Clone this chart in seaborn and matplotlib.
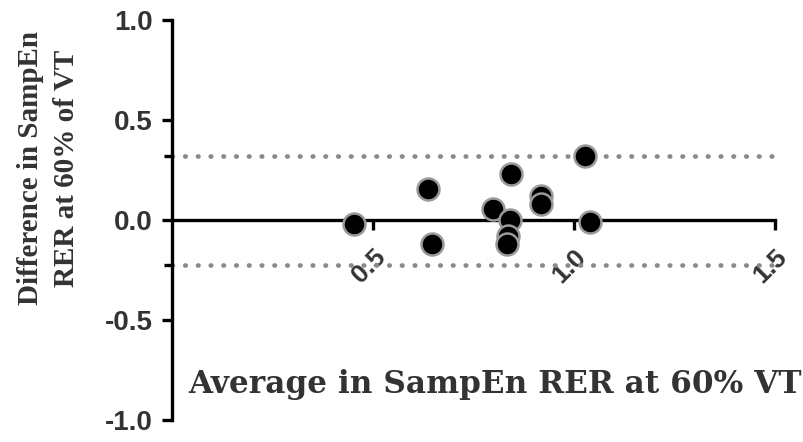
import matplotlib
matplotlib.use("Agg")
import matplotlib.pyplot as plt
import seaborn as sns
import pandas as pd

# Data (Bland-Altman plot)
average = [0.453, 0.638, 0.647, 0.799, 0.843, 0.841, 0.836, 0.834, 0.918, 0.918, 1.027, 1.040]
difference = [-0.02, 0.153, -0.12, 0.053, 0.228, 0.0, -0.08, -0.12, 0.12, 0.079, 0.32, -0.01]
upper_loa = 0.32
lower_loa = -0.227
x_ticks = [0.5, 1.0, 1.5]
x_ticklabels = ["0.5", "1.0", "1.5"]
y_ticks = [-1.0, -0.5, 0.0, 0.5, 1.0]
y_ticklabels = ["-1.0", "-0.5", "0.0", "0.5", "1.0"]
xlabel = "Average in SampEn RER at 60% VT"
ylabel = "Difference in SampEn\nRER at 60% of VT"

df = pd.DataFrame({"avg": average, "diff": difference})

sns.set_style("white")
plt.rcParams["font.family"] = ["Liberation Sans", "DejaVu Sans"]

fig = plt.figure(figsize=(8.04, 4.42), dpi=100)
ax = fig.add_axes([172 / 804, 1 - 420 / 442, (775 - 172) / 804, 400 / 442])

# limits of agreement (dotted)
for v in (upper_loa, lower_loa):
    ax.plot([0, 1.5], [v, v], linestyle=(0, (0.1, 2.6)), linewidth=3.4,
            color="#8a8a8a", dash_capstyle="round", zorder=1)

sns.scatterplot(data=df, x="avg", y="diff", ax=ax, s=250, color="black",
                edgecolor="#9a9a9a", linewidth=1.8, zorder=3, legend=False)

ax.set_xlim(0, 1.5)
ax.set_ylim(-1.0, 1.0)

for s in ("top", "right"):
    ax.spines[s].set_visible(False)
ax.spines["left"].set_position(("data", 0))
ax.spines["bottom"].set_position(("data", 0))
for s in ("left", "bottom"):
    ax.spines[s].set_linewidth(2.4)
    ax.spines[s].set_color("black")

ax.set_xticks(x_ticks)
ax.set_xticklabels(x_ticklabels, rotation=45, ha="right", va="top",
                   rotation_mode="anchor", fontsize=19, fontweight="bold",
                   color="#333333")
ax.set_yticks(y_ticks)
ax.set_yticklabels(y_ticklabels, fontsize=20, fontweight="bold", color="#333333")
ax.set_yticks([lower_loa, upper_loa], minor=True)
ax.tick_params(axis="both", which="major", direction="out", length=7, width=2.4,
               color="black", bottom=True, left=True)
ax.tick_params(axis="x", pad=11)
ax.tick_params(axis="y", pad=7)
ax.tick_params(axis="y", which="minor", direction="out", length=6, width=2.4,
               color="black", left=True)
ax.set_xlabel("")
ax.set_ylabel("")

ax.text(0.536, 0.0875, xlabel, transform=ax.transAxes, ha="center", va="center",
        fontsize=22.4, fontweight="bold", family=["DejaVu Serif"],
        color="#333333")
ax.text(-0.205, 0.63, ylabel, transform=ax.transAxes, ha="center", va="center",
        rotation=90, fontsize=21, fontweight="bold", linespacing=1.45,
        family=["Liberation Serif", "DejaVu Serif"], color="#333333")

fig.savefig("out.png", dpi=100)
